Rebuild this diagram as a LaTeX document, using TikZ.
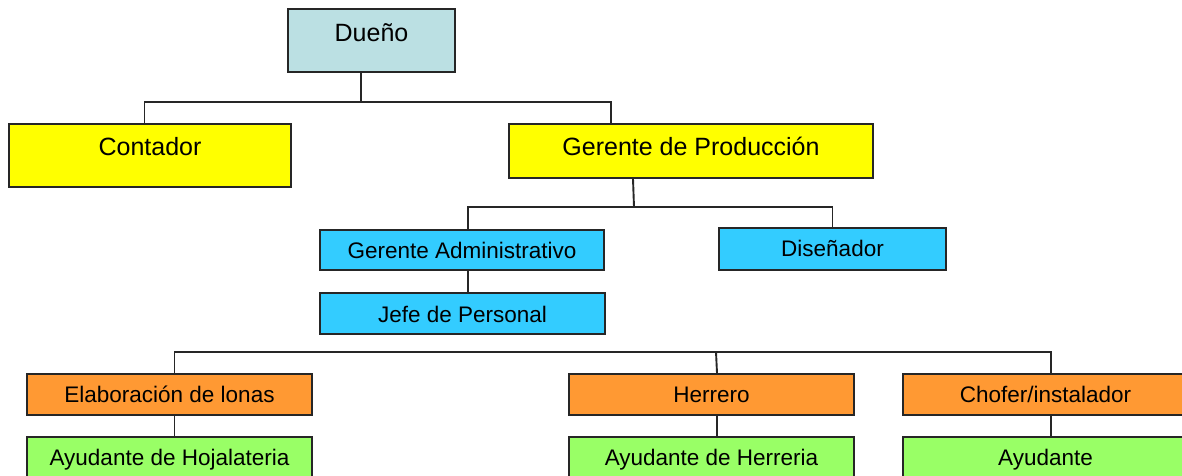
\documentclass[tikz,border=0pt]{standalone}
\usepackage{fontspec}
\setmainfont{Liberation Sans}
\usetikzlibrary{calc}
\definecolor{cOwner}{HTML}{BBE0E3}
\definecolor{cYellow}{HTML}{FFFF00}
\definecolor{cCyan}{HTML}{33CCFF}
\definecolor{cOrange}{HTML}{FF9933}
\definecolor{cGreen}{HTML}{99FF66}
\begin{document}
\begin{tikzpicture}[x=1pt,y=-1pt,
  box/.style={draw=black!85, line width=2pt, inner sep=0pt, anchor=north west},
  big/.style={box, font=\fontsize{25pt}{30pt}\selectfont},
  small/.style={box, font=\fontsize{22.5pt}{27pt}\selectfont},
  conn/.style={draw=black!85, line width=1.9pt}]
\useasboundingbox (0,0) rectangle (1182,475);
\clip (0,0) rectangle (1182,475);
% level 1
\node[big, fill=cOwner, minimum width=167pt, text height=32pt, text depth=31pt] (dueno) at (287,8) {Dueño};
\node[big, fill=cYellow, minimum width=282pt, text height=31pt, text depth=32pt] (contador) at (8,123) {Contador};
\node[big, fill=cYellow, minimum width=364pt, text height=31pt, text depth=23pt] (gdp) at (508,123) {Gerente de Producción};
% level 2
\node[small, fill=cCyan, minimum width=284pt, text height=28pt, text depth=12pt] (ga) at (319,229) {Gerente Administrativo};
\node[small, fill=cCyan, minimum width=227pt, text height=28pt, text depth=14pt] (dis) at (718,227) {Diseñador};
\node[small, fill=cCyan, minimum width=285pt, text height=29pt, text depth=12pt] (jefe) at (319,292) {Jefe de Personal};
% level 3
\node[small, fill=cOrange, minimum width=285pt, text height=28pt, text depth=13pt] (elab) at (26,373) {Elaboración de lonas};
\node[small, fill=cOrange, minimum width=285pt, text height=28pt, text depth=13pt] (herr) at (568,373) {Herrero};
\node[small, fill=cOrange, minimum width=285pt, text height=28pt, text depth=13pt] (chof) at (902,373) {Chofer/instalador};
% level 4
\node[small, fill=cGreen, minimum width=285pt, text height=28pt, text depth=16pt] (ayh) at (26,436) {Ayudante de Hojalateria};
\node[small, fill=cGreen, minimum width=285pt, text height=28pt, text depth=16pt] (ayhe) at (568,436) {Ayudante de Herreria};
\node[small, fill=cGreen, minimum width=285pt, text height=28pt, text depth=16pt] (ay) at (902,436) {Ayudante};
% connector coordinates
\coordinate (h1) at (360,102);
\coordinate (db) at ([xshift=-10.5pt]dueno.south);
\coordinate (ct) at ([xshift=-5.5pt]contador.north);
\coordinate (gt) at ([xshift=-80pt]gdp.north);
\coordinate (gb) at ([xshift=-58pt]gdp.south);
\coordinate (h2) at (634,207);
\coordinate (gat) at ([xshift=6pt]ga.north);
\coordinate (gab) at ([xshift=6pt]ga.south);
\coordinate (et) at ([xshift=5pt]elab.north);
\coordinate (eb) at ([xshift=5pt]elab.south);
\coordinate (ht) at ([xshift=5.5pt]herr.north);
\coordinate (hb) at ([xshift=5.5pt]herr.south);
\coordinate (cht) at ([xshift=5.5pt]chof.north);
\coordinate (chb) at ([xshift=5.5pt]chof.south);
\coordinate (h3) at (716,352);
% connectors
\draw[conn] (db) -- (db |- h1);
\draw[conn] (ct) |- (h1) -| (gt);
\draw[conn] (gb) -- (h2);
\draw[conn] (gat) |- (h2) -| (dis.north);
\draw[conn] (gab) -- (gab |- jefe.north);
\draw[conn] (et) |- (h3) -| (cht);
\draw[conn] (ht) -- (h3);
\draw[conn] (eb) -- (eb |- ayh.north);
\draw[conn] (hb) -- (hb |- ayhe.north);
\draw[conn] (chb) -- (chb |- ay.north);
\end{tikzpicture}
\end{document}
